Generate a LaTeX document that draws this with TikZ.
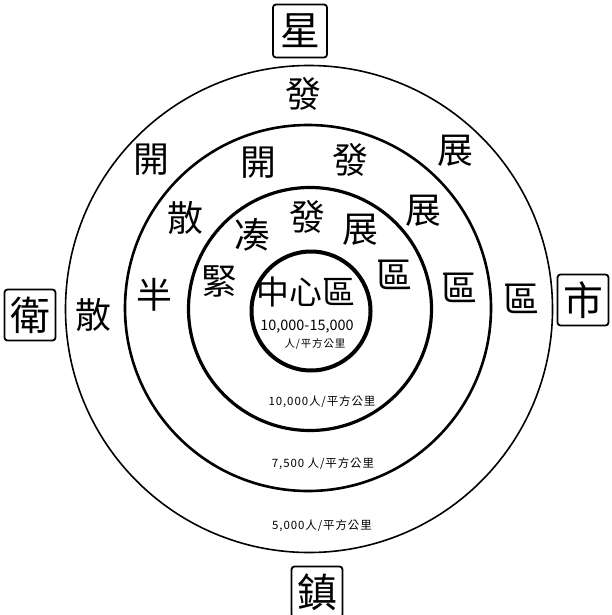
\documentclass[tikz,border=0pt]{standalone}
\usepackage{fontspec}
\newfontfamily\cjk{Noto Sans CJK TC}
\newfontfamily\cjkspaced[LetterSpace=8]{Noto Sans CJK TC}
\begin{document}
\begin{tikzpicture}[x=1bp,y=-1bp,
  ring/.style={font=\cjk\fontsize{36}{36}\selectfont, inner sep=0pt},
  core/.style={font=\cjk\fontsize{33}{33}\selectfont, inner sep=0pt},
  boxed/.style={draw, line width=1.8bp, rounded corners=3bp, font=\cjk\fontsize{40}{40}\selectfont,
     minimum width=51bp, minimum height=51bp, inner sep=0pt},
  dens/.style={font=\cjkspaced\fontsize{11.5}{11.5}\selectfont, inner sep=0pt},
  circ/.style={draw, circle, inner sep=0pt}
]
\useasboundingbox (0,0) rectangle (612,615);
% circles
\node[circ, line width=1.6bp, minimum size=487bp] (c4) at (309,309) {};
\node[circ, line width=2.6bp, minimum size=366bp] (c3) at (308,308) {};
\node[circ, line width=3.2bp, minimum size=243bp] (c2) at (310,309) {};
\node[circ, line width=4bp, minimum size=119bp] (c1) at (311,311) {};

% boxed cardinal characters
\node[boxed, minimum width=54bp, minimum height=53bp] (xing) at (300,31) {星};
\node[boxed] (wei) at (30,315) {衛};
\node[boxed] (shi) at (583,300) {市};
\node[boxed] (zhen) at (317,592) {鎮};

% outer ring
\node[ring] (fa1) at (303,94) {發};
\node[ring] (kai1) at (151,160) {開};
\node[ring] (zhan1) at (455,151) {展};
\node[ring] (san1) at (93,315) {散};
\node[ring] (qu1) at (521,299) {區};

% third ring
\node[ring] (kai2) at (258,163) {開};
\node[ring] (fa2) at (350,160) {發};
\node[ring] (san2) at (185,218) {散};
\node[ring] (zhan2) at (423,211) {展};
\node[ring] (ban) at (154,295) {半};
\node[ring] (qu2) at (459,288) {區};

% second ring
\node[ring] (cou) at (252,235) {凑};
\node[ring] (fa3) at (307,217) {發};
\node[ring] (zhan3) at (360,230) {展};
\node[ring] (jin) at (219,281) {緊};
\node[ring] (qu3) at (394,275) {區};

% core
\node[core] (center) at (306,292) {中心區};
\node[font=\cjk\fontsize{14.5}{14.5}\selectfont, inner sep=0pt] (d0) at (307,327) {10,000-15,000};
\node[dens, font=\cjkspaced\fontsize{10.5}{10.5}\selectfont] (d0u) at (315,344) {人/平方公里};

% density labels
\node[dens] (d1) at (322,402) {10,000人/平方公里};
\node[dens] (d2) at (323,464) {7,500 人/平方公里};
\node[dens] (d3) at (322,526) {5,000人/平方公里};
\end{tikzpicture}
\end{document}
